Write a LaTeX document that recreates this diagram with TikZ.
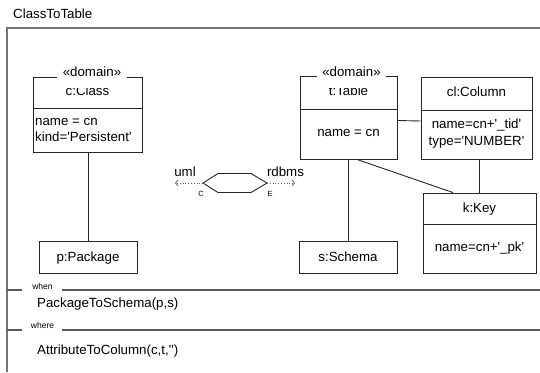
\documentclass[tikz,border=0pt]{standalone}
\usepackage{fontspec}
\newfontfamily\lf{Liberation Sans}
\usetikzlibrary{arrows.meta,calc}
\begin{document}
\begin{tikzpicture}[x=1pt,y=-1pt,
  every node/.style={font=\lf\fontsize{13.3}{16}\selectfont, inner sep=0pt, text height=9.6pt, text depth=0pt},
  obj/.style={draw=black!85, line width=0.9pt, inner sep=0pt},
  objline/.style={draw=black!85, line width=0.9pt},
  conn/.style={draw=black!85, line width=0.9pt},
  frameline/.style={draw=black!55, line width=1.4pt},
  sepline/.style={draw=black!65, line width=1.2pt},
  stereo/.style={fill=white, text height=9pt, text depth=3pt, inner xsep=5.5pt, inner ysep=8.5pt},
  small/.style={font=\lf\fontsize{8.5}{10}\selectfont, text height=6pt},
  tiny/.style={font=\lf\fontsize{7.5}{9}\selectfont, text height=5.4pt},
  dotarrow/.style={draw=black!60, dotted, line width=0.8pt, -{Straight Barb[length=2.5pt,width=6pt]}}
]
\useasboundingbox (0,0) rectangle (540,372);

% title and frame
\node[anchor=west] (title) at (13,14) {ClassToTable};
\draw[frameline] (7,372) -- (7,28) -- (540,28);

% c:Class
\node[obj, minimum width=109pt, minimum height=75pt] (cls) at (87.5,114.5) {};
\draw[objline] (cls.west |- 0,108) -- (cls.east |- 0,108);
\node (clsName) at (87.5,91) {c:Class};
\node[anchor=west] (clsA1) at (35,121) {name = cn};
\node[anchor=west] (clsA2) at (35,137) {kind='Persistent'};
\node[stereo] (clsSt) at (92,73) {«domain»};

% p:Package
\node[obj, minimum width=98pt, minimum height=32pt] (pkg) at (88,257) {p:Package};

% t:Table
\node[obj, minimum width=97pt, minimum height=83pt] (tbl) at (348.5,117.5) {};
\draw[objline] (tbl.west |- 0,109) -- (tbl.east |- 0,109);
\node (tblName) at (348.5,91) {t:Table};
\node (tblA1) at (348.5,132) {name = cn};
\node[stereo] (tblSt) at (351.5,73) {«domain»};

% cl:Column
\node[obj, minimum width=111pt, minimum height=82pt] (col) at (476.5,118) {};
\draw[objline] (col.west |- 0,110) -- (col.east |- 0,110);
\node (colName) at (476.5,92) {cl:Column};
\node (colA1) at (476.5,124) {name=cn+'\_tid'};
\node (colA2) at (476.5,141) {type='NUMBER'};

% k:Key
\node[obj, minimum width=113pt, minimum height=80pt] (key) at (479.5,233) {};
\draw[objline] (key.west |- 0,224) -- (key.east |- 0,224);
\node (keyName) at (479.5,208) {k:Key};
\node (keyA1) at (479.5,247) {name=cn+'\_pk'};

% s:Schema
\node[obj, minimum width=98pt, minimum height=32pt] (sch) at (348,257) {s:Schema};

% connectors
\draw[conn] (pkg.north) -- (pkg.north |- cls.south);
\draw[conn] (sch.north) -- (sch.north |- tbl.south);
\draw[conn] ([yshift=-3pt]tbl.east) -- ([yshift=-3pt]col.west);
\draw[conn] (key.north) -- (key.north |- col.south);
\draw[conn] ([xshift=8.5pt]tbl.south) -- ([xshift=-26.5pt]key.north);

% transformation symbol
\coordinate (hL) at (203,183);
\coordinate (hTL) at (218,173.5);
\coordinate (hTR) at (251,173.5);
\coordinate (hR) at (267,183);
\coordinate (hBR) at (251,192.5);
\coordinate (hBL) at (218,192.5);
\draw[objline] (hL) -- (hTL) -- (hTR) -- (hR) -- (hBR) -- (hBL) -- cycle;
\coordinate (umlEnd) at (175,183);
\coordinate (rdbEnd) at (295,183);
\draw[dotarrow] (hL) -- (umlEnd);
\draw[dotarrow] (hR) -- (rdbEnd);
\node (uml) at (185,172) {uml};
\node (rdbms) at (285.5,172) {rdbms};
\node[tiny] (cLbl) at (201,194) {C};
\node[tiny] (eLbl) at (270,194) {E};

% when / where compartments
\draw[sepline] (7,290) -- (22,290);
\draw[sepline] (62,290) -- (540,290);
\node[small] (when) at (42.5,286) {when};
\node[anchor=west] (whenTxt) at (37,303) {PackageToSchema(p,s)};
\draw[sepline] (7,330) -- (22,330);
\draw[sepline] (62,330) -- (540,330);
\node[small] (where) at (42.5,325) {where};
\node[anchor=west] (whereTxt) at (37,350) {AttributeToColumn(c,t,'')};
\end{tikzpicture}
\end{document}
